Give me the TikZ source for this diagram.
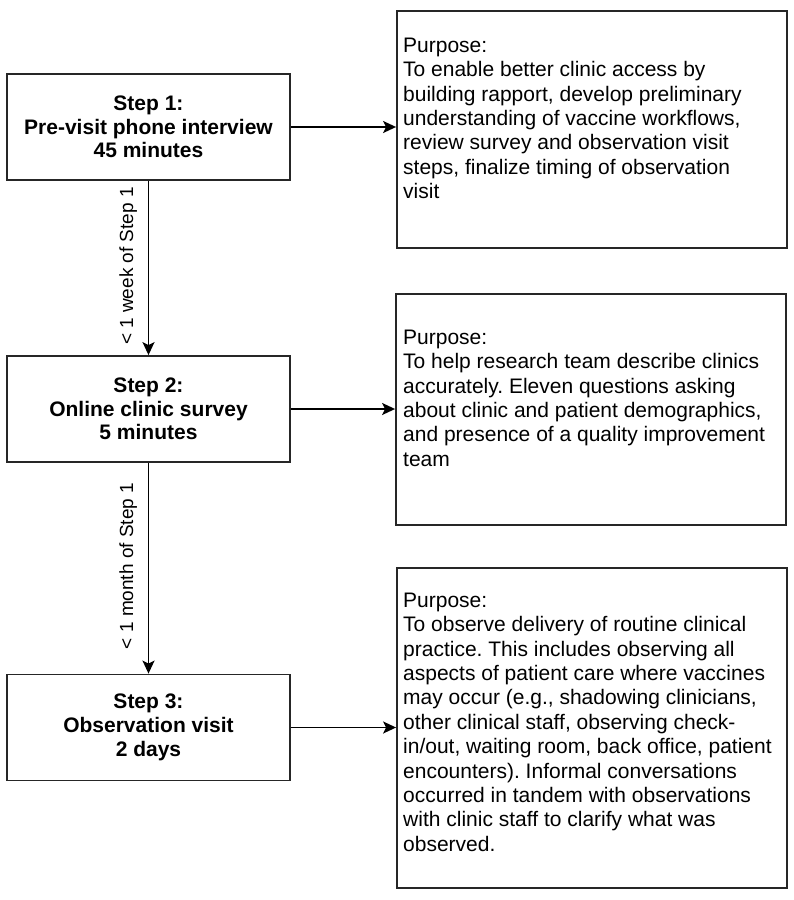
\documentclass[tikz,border=0pt]{standalone}
\usepackage{fontspec}
\setmainfont{Liberation Sans}
\usetikzlibrary{arrows.meta}
\frenchspacing
\begin{document}
\begin{tikzpicture}[x=1pt,y=-1pt,
  stepbox/.style={draw=black!85, line width=1.8pt, minimum width=283pt, minimum height=106pt,
    align=center, inner sep=0pt, font=\fontsize{21}{23.7}\selectfont\bfseries},
  purposebox/.style={draw=black!85, line width=1.8pt, minimum width=390pt, inner sep=0pt},
  purposetext/.style={anchor=north west, align=left, inner sep=0pt,
    font=\fontsize{21}{24.4}\selectfont},
  gaplabel/.style={rotate=90, anchor=base, inner sep=0pt, font=\fontsize{19}{22}\selectfont},
  arr/.style={draw=black, line width=1.8pt, -{Stealth[length=13pt,width=12pt,inset=3pt]}}
]
\useasboundingbox (0,0) rectangle (793,900);
\fill[white] (0,0) rectangle (793,900);

% step boxes
\node[stepbox] (s1) at (148.5,127) {Step 1:\\Pre-visit phone interview\\45 minutes};
\node[stepbox] (s2) at (148.5,409) {Step 2:\\Online clinic survey\\5 minutes};
\node[stepbox] (s3) at (148.5,727.5) {Step 3:\\Observation visit\\2 days};

% purpose boxes
\node[purposebox, minimum height=237pt] (p1) at (592,129.5) {};
\node[purposebox, minimum height=231pt] (p2) at (591,409.5) {};
\node[purposebox, minimum height=320pt] (p3) at (592,728) {};

% purpose texts
\node[purposetext] (t1) at (403,37.7) {Purpose:\\To enable better clinic access by\\building rapport, develop preliminary\\understanding of vaccine workflows,\\review survey and observation visit\\steps, finalize timing of observation\\visit};
\node[purposetext] (t2) at (403,329.7) {Purpose:\\To help research team describe clinics\\accurately. Eleven questions asking\\about clinic and patient demographics,\\and presence of a quality improvement\\team};
\node[purposetext] (t3) at (403,592.7) {Purpose:\\To observe delivery of routine clinical\\practice. This includes observing all\\aspects of patient care where vaccines\\may occur (e.g., shadowing clinicians,\\other clinical staff, observing check-\\in/out, waiting room, back office, patient\\encounters). Informal conversations\\occurred in tandem with observations\\with clinic staff to clarify what was\\observed.};

% connectors
\draw[arr] (s1.east) -- (s1.east -| p1.west);
\draw[arr] (s2.east) -- (s2.east -| p2.west);
\draw[arr] (s3.east) -- (s3.east -| p3.west);
\draw[arr] (s1.south) -- (s2.north);
\draw[arr] (s2.south) -- (s3.north);

% gap labels
\node[gaplabel] (g1) at (133,266) {< 1 week of Step 1};
\node[gaplabel] (g2) at (133,566) {< 1 month of Step 1};
\end{tikzpicture}
\end{document}
